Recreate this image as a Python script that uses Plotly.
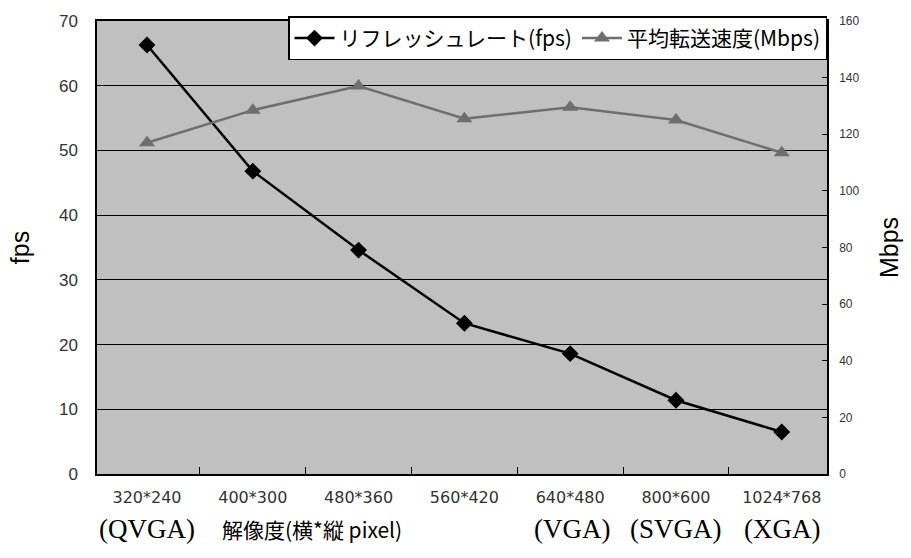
import plotly.graph_objects as go

# Resolution categories and measured values
resolutions = ["320*240", "400*300", "480*360", "560*420", "640*480", "800*600", "1024*768"]
refresh_fps = [66.3, 46.8, 34.6, 23.3, 18.6, 11.4, 6.5]
avg_mbps = [117, 128.5, 137, 125.5, 129.5, 125, 113.5]

fps_ticks = list(range(0, 71, 10))
mbps_ticks = list(range(0, 161, 20))

# Second row under the category labels: (text, category position, serif?)
sub_labels = [
    ("(QVGA)", 0, True),
    ("解像度(横*縦 pixel)", 1.56, False),
    ("(VGA)", 4.02, True),
    ("(SVGA)", 5.0, True),
    ("(XGA)", 6.0, True),
]

JP = "Noto Sans CJK JP, Liberation Sans, sans-serif"
NUM = "Liberation Sans, Arial, sans-serif"
WIDE = "DejaVu Sans, Liberation Sans, sans-serif"
SERIF = "Liberation Serif, Times New Roman, serif"

fig = go.Figure()
fig.add_trace(go.Scatter(
    x=resolutions, y=refresh_fps, name="リフレッシュレート(fps)",
    mode="lines+markers",
    line=dict(color="#000000", width=2.5),
    marker=dict(symbol="diamond", size=13, color="#000000"),
    yaxis="y",
))
fig.add_trace(go.Scatter(
    x=resolutions, y=avg_mbps, name="平均転送速度(Mbps)",
    mode="lines+markers",
    line=dict(color="#6e6e6e", width=2.5),
    marker=dict(symbol="triangle-up", size=14, color="#6e6e6e"),
    yaxis="y2",
))

for text, pos, serif in sub_labels:
    fig.add_annotation(
        x=pos, xref="x", y=-0.122, yref="paper", yanchor="middle",
        text=text, showarrow=False,
        font=dict(family=SERIF if serif else JP, size=27 if serif else 21, color="#000000"),
    )

fig.update_layout(
    width=911, height=558,
    margin=dict(l=97, r=79, t=18, b=84),
    paper_bgcolor="#ffffff",
    plot_bgcolor="#c0c0c0",
    showlegend=True,
    legend=dict(
        orientation="h", x=1.0, xanchor="right", y=1.01, yanchor="top",
        bgcolor="#ffffff", bordercolor="#000000", borderwidth=1.5,
        font=dict(family=JP, size=21, color="#000000"),
        itemsizing="trace", tracegroupgap=0, itemwidth=40,
    ),
    xaxis=dict(
        type="category",
        tickson="boundaries", ticks="inside", ticklen=7, tickcolor="#000000",
        showline=True, linecolor="#000000", linewidth=1.5, mirror=True,
        showgrid=False,
        tickfont=dict(family=WIDE, size=16, color="#333333"),
        ticklabelstandoff=8,
    ),
    yaxis=dict(
        range=[0, 70], tickvals=fps_ticks,
        showgrid=True, gridcolor="#000000", gridwidth=1.2,
        showline=True, linecolor="#000000", linewidth=1.5, mirror=True,
        zeroline=False, ticks="",
        tickfont=dict(family=NUM, size=17, color="#333333"),
        ticklabelstandoff=14,
        title=dict(text="fps", font=dict(family=NUM, size=25, color="#000000"), standoff=22),
    ),
    yaxis2=dict(
        range=[0, 160], tickvals=mbps_ticks,
        overlaying="y", side="right",
        showgrid=False, zeroline=False,
        showline=True, linecolor="#000000", linewidth=1.5,
        ticks="inside", ticklen=5, tickcolor="#000000",
        tickfont=dict(family=NUM, size=12, color="#333333"),
        ticklabelstandoff=8,
        title=dict(text="Mbps", font=dict(family=NUM, size=25, color="#000000"), standoff=22),
    ),
)

fig.write_html("out.html")
